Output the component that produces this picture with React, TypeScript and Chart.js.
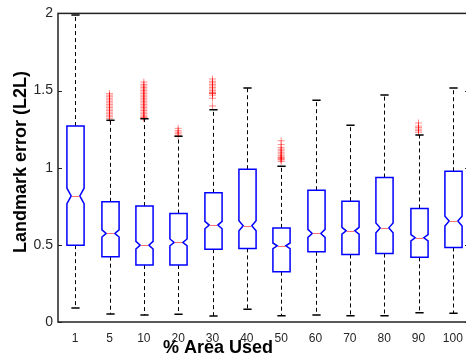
import React, { useEffect, useRef } from "react";
import { Chart, registerables } from "chart.js";

Chart.register(...registerables);

const categories = ["1", "5", "10", "20", "30", "40", "50", "60", "70", "80", "90", "100"];
const whiskerLow = [0.09, 0.052, 0.045, 0.05, 0.039, 0.082, 0.041, 0.045, 0.041, 0.041, 0.06, 0.056];
const q1 = [0.498, 0.423, 0.369, 0.369, 0.472, 0.477, 0.326, 0.455, 0.438, 0.444, 0.419, 0.483];
const medians = [0.817, 0.574, 0.498, 0.516, 0.628, 0.624, 0.494, 0.574, 0.591, 0.61, 0.546, 0.654];
const q3 = [1.27, 0.779, 0.751, 0.703, 0.837, 0.99, 0.61, 0.854, 0.783, 0.936, 0.736, 0.977];
const whiskerHigh = [1.99, 1.307, 1.318, 1.204, 1.375, 1.517, 1.01, 1.437, 1.275, 1.471, 1.212, 1.517];
const notchHalf = [0.05, 0.023, 0.025, 0.022, 0.024, 0.033, 0.018, 0.026, 0.022, 0.032, 0.021, 0.032];
const outliers: number[][] = [
  [],
  [1.32, 1.33, 1.34, 1.35, 1.36, 1.37, 1.38, 1.39, 1.4, 1.41, 1.42, 1.43, 1.44, 1.45, 1.46, 1.47, 1.48],
  [1.32, 1.325, 1.33, 1.34, 1.35, 1.36, 1.37, 1.38, 1.39, 1.4, 1.41, 1.42, 1.43, 1.44, 1.45, 1.46, 1.47, 1.48, 1.49, 1.5, 1.51, 1.52, 1.53, 1.54, 1.555],
  [1.21, 1.22, 1.23, 1.24, 1.255],
  [1.4, 1.45, 1.47, 1.48, 1.482, 1.485, 1.49, 1.5, 1.51, 1.52, 1.53, 1.54, 1.55, 1.56, 1.575],
  [],
  [1.04, 1.05, 1.055, 1.06, 1.065, 1.07, 1.08, 1.09, 1.1, 1.11, 1.12, 1.13, 1.15, 1.175],
  [],
  [],
  [],
  [1.23, 1.24, 1.25, 1.26, 1.27, 1.29],
  [],
];
const yTicks = [0, 0.5, 1, 1.5, 2];
const xTitle = "% Area Used";
const yTitle = "Landmark error (L2L)";

const boxPlugin = {
  id: "boxPlugin",
  afterDatasetsDraw(chart: any) {
    const { ctx, chartArea, scales } = chart;
    const x = scales.x;
    const y = scales.y;
    const step = x.getPixelForValue(1) - x.getPixelForValue(0);
    const hw = step * 0.25;
    const nw = hw * 0.5;
    const cap = step * 0.12;
    ctx.save();
    for (let i = 0; i < categories.length; i++) {
      const cx = Math.round(x.getPixelForValue(i)) + 0.5;
      // whiskers
      ctx.strokeStyle = "#000";
      ctx.lineWidth = 1;
      ctx.setLineDash([4, 3]);
      ctx.beginPath();
      ctx.moveTo(cx, y.getPixelForValue(q3[i]));
      ctx.lineTo(cx, y.getPixelForValue(whiskerHigh[i]));
      ctx.moveTo(cx, y.getPixelForValue(q1[i]));
      ctx.lineTo(cx, y.getPixelForValue(whiskerLow[i]));
      ctx.stroke();
      ctx.setLineDash([]);
      ctx.lineWidth = 1.5;
      ctx.beginPath();
      const yh = y.getPixelForValue(whiskerHigh[i]);
      const yl = y.getPixelForValue(whiskerLow[i]);
      ctx.moveTo(cx - cap, yh);
      ctx.lineTo(cx + cap, yh);
      ctx.moveTo(cx - cap, yl);
      ctx.lineTo(cx + cap, yl);
      ctx.stroke();
      // notched box
      const yq1 = y.getPixelForValue(q1[i]);
      const yq3 = y.getPixelForValue(q3[i]);
      const ym = y.getPixelForValue(medians[i]);
      const ynl = y.getPixelForValue(medians[i] - notchHalf[i]);
      const ynh = y.getPixelForValue(medians[i] + notchHalf[i]);
      ctx.strokeStyle = "#0000ff";
      ctx.lineWidth = 1.5;
      ctx.beginPath();
      ctx.moveTo(cx - hw, yq1);
      ctx.lineTo(cx - hw, ynl);
      ctx.lineTo(cx - nw, ym);
      ctx.lineTo(cx - hw, ynh);
      ctx.lineTo(cx - hw, yq3);
      ctx.lineTo(cx + hw, yq3);
      ctx.lineTo(cx + hw, ynh);
      ctx.lineTo(cx + nw, ym);
      ctx.lineTo(cx + hw, ynl);
      ctx.lineTo(cx + hw, yq1);
      ctx.closePath();
      ctx.stroke();
      // median
      ctx.strokeStyle = "#ff7070";
      ctx.lineWidth = 1;
      ctx.beginPath();
      ctx.moveTo(cx - nw + 0.5, Math.round(ym) + 0.5);
      ctx.lineTo(cx + nw - 0.5, Math.round(ym) + 0.5);
      ctx.stroke();
    }
    // frame
    ctx.strokeStyle = "#222";
    ctx.lineWidth = 1.5;
    ctx.strokeRect(chartArea.left, chartArea.top, chartArea.right - chartArea.left, chartArea.bottom - chartArea.top);
    ctx.lineWidth = 1;
    ctx.beginPath();
    for (const t of yTicks) {
      const py = Math.round(y.getPixelForValue(t)) + 0.5;
      ctx.moveTo(chartArea.left, py);
      ctx.lineTo(chartArea.left + 4, py);
      ctx.moveTo(chartArea.right, py);
      ctx.lineTo(chartArea.right - 5, py);
    }
    ctx.stroke();
    // titles
    ctx.fillStyle = "#000";
    ctx.font = "bold 18px 'Liberation Sans', Arial, sans-serif";
    ctx.textAlign = "center";
    ctx.textBaseline = "alphabetic";
    ctx.fillText(xTitle, 218, 353);
    ctx.save();
    ctx.translate(26, 162);
    ctx.rotate(-Math.PI / 2);
    ctx.fillText(yTitle, 0, 0);
    ctx.restore();
    ctx.restore();
  },
};

export default function App() {
  const ref = useRef<HTMLCanvasElement | null>(null);
  useEffect(() => {
    if (!ref.current) return;
    const outlierPoints: { x: string; y: number }[] = [];
    outliers.forEach((arr, i) => arr.forEach((v) => outlierPoints.push({ x: categories[i], y: v })));
    const chart = new Chart(ref.current, {
      type: "bar",
      data: {
        labels: categories,
        datasets: [
          {
            type: "bar",
            data: categories.map((_, i) => [q1[i], q3[i]]) as any,
            backgroundColor: "rgba(0,0,0,0)",
            borderWidth: 0,
          },
          {
            type: "line",
            data: outlierPoints as any,
            showLine: false,
            pointStyle: "cross",
            pointRadius: 3.5,
            pointBorderWidth: 1,
            pointBorderColor: "rgba(255,0,0,0.45)",
            borderColor: "rgba(255,0,0,0.45)",
          } as any,
        ],
      },
      options: {
        responsive: false,
        animation: false,
        events: [],
        layout: { padding: { top: 13, right: 10, left: 0, bottom: 0 } },
        plugins: { legend: { display: false }, tooltip: { enabled: false }, title: { display: false } },
        scales: {
          x: {
            type: "category",
            grid: { display: false, drawTicks: false },
            border: { display: false },
            ticks: {
              color: "#262626",
              font: { family: "'Liberation Sans', Arial, sans-serif", size: 12 },
              padding: 9,
              maxRotation: 0,
              autoSkip: false,
            },
            afterFit: (s: any) => {
              s.height = 38;
            },
          },
          y: {
            type: "linear",
            min: 0,
            max: 2,
            grid: { display: false, drawTicks: false },
            border: { display: false },
            ticks: {
              stepSize: 0.5,
              color: "#262626",
              font: { family: "'Liberation Sans', Arial, sans-serif", size: 14 },
              padding: 5,
              callback: (v: any) => String(Number(v)),
            },
            afterFit: (s: any) => {
              s.width = 58;
            },
          },
        },
      },
      plugins: [boxPlugin],
    });
    return () => chart.destroy();
  }, []);
  return (
    <div style={{ position: "fixed", left: 0, top: 0, width: 466, height: 360, overflow: "hidden", background: "#fff" }}>
      <canvas ref={ref} width={480} height={360} style={{ display: "block", width: 480, height: 360 }} />
    </div>
  );
}
